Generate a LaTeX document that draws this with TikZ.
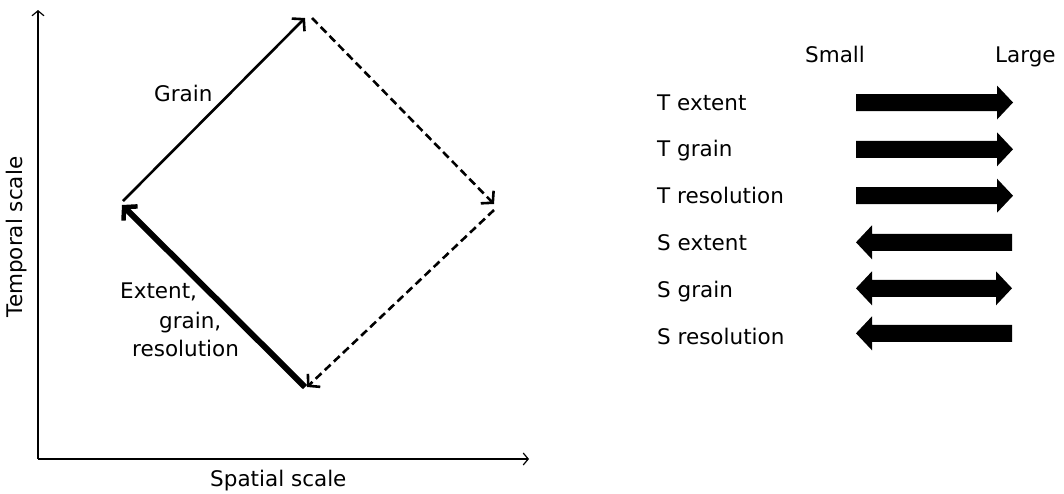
\documentclass[tikz,border=0pt]{standalone}
\usepackage{fontspec}
\setmainfont{DejaVu Sans}
\usetikzlibrary{arrows.meta}
\begin{document}
\begin{tikzpicture}[x=1pt,y=-1pt,
  lbl/.style={font=\fontsize{21.5}{25}\selectfont, inner sep=0pt},
  axis/.style={line width=1.2pt, -{Straight Barb[length=5pt,width=12pt,line width=1.2pt]}},
  grainline/.style={line width=2.6pt, -{Straight Barb[length=8pt,width=18pt,line width=2.6pt]}},
  dashline/.style={line width=2.6pt, dash pattern=on 8pt off 4.5pt, -{Straight Barb[length=8pt,width=18pt,line width=2.6pt]}},
  thickline/.style={line width=6pt, -{Straight Barb[length=9pt,width=20pt,line width=4.5pt]}},
  rarr/.pic={\fill (0,-8.5) -- (141,-8.5) -- (141,-17) -- (157,0) -- (141,17) -- (141,8.5) -- (0,8.5) -- cycle;},
  larr/.pic={\fill (0,0) -- (16,-17) -- (16,-8.5) -- (156,-8.5) -- (156,8.5) -- (16,8.5) -- (16,17) -- cycle;},
  darr/.pic={\fill (0,0) -- (16,-17) -- (16,-8.5) -- (140,-8.5) -- (140,-17) -- (156,0) -- (140,17) -- (140,8.5) -- (16,8.5) -- (16,17) -- cycle;}
]
\useasboundingbox (0,0) rectangle (1064,493);
% axes
\coordinate (O) at (38,459);
\coordinate (Ytop) at (38,10);
\coordinate (Xend) at (529,459);
\draw[axis] (O) -- (Ytop);
\draw[axis] (O) -- (Xend);
\node[lbl, rotate=90] (ylab) at (17,237) {Temporal scale};
\node[lbl, anchor=base west] (xlab) at (210,486) {Spatial scale};
% diamond
\coordinate (L1) at (123,201);
\coordinate (T1) at (305,18);
\coordinate (T2) at (312,18);
\coordinate (R1) at (494,204);
\coordinate (R2) at (494,210);
\coordinate (B1) at (307,387);
\coordinate (B2) at (305,387);
\coordinate (L2) at (122,205);
\draw[grainline] (L1) -- (T1);
\draw[dashline] (T2) -- (R1);
\draw[dashline] (R2) -- (B1);
\draw[thickline] (B2) -- (L2);
\node[lbl, anchor=base west] (grain) at (154,101.5) {Grain};
\node[lbl, anchor=base west] (ext1) at (120,298) {Extent,};
\node[lbl, anchor=base west] (ext2) at (159,328) {grain,};
\node[lbl, anchor=base west] (ext3) at (132,356) {resolution};
% right legend
\node[lbl, anchor=base west] (small) at (805,62) {Small};
\node[lbl, anchor=base west] (large) at (995,62) {Large};
\node[lbl, anchor=base west] (te) at (657,110) {T extent};
\node[lbl, anchor=base west] (tg) at (657,156.5) {T grain};
\node[lbl, anchor=base west] (tr) at (657,203) {T resolution};
\node[lbl, anchor=base west] (se) at (657,250.5) {S extent};
\node[lbl, anchor=base west] (sg) at (657,297.5) {S grain};
\node[lbl, anchor=base west] (sr) at (657,344) {S resolution};
\pic at (856,102.5) {rarr};
\pic at (856,149.3) {rarr};
\pic at (856,195.7) {rarr};
\pic at (856,242.3) {larr};
\pic at (856,288.3) {darr};
\pic at (856,333.3) {larr};
\end{tikzpicture}
\end{document}
